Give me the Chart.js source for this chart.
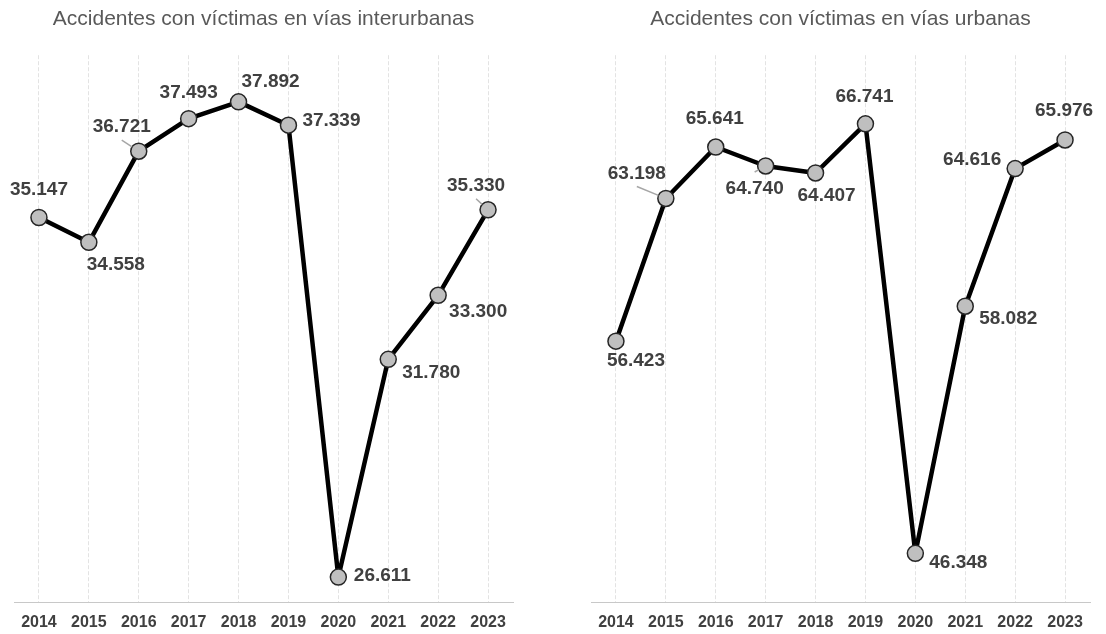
<!DOCTYPE html>
<html>
<head>
<meta charset="utf-8">
<script src="https://cdn.jsdelivr.net/npm/chart.js@4"></script>
<style>
  body { margin: 0; background: #fff; overflow: hidden; }
  .panel { position: absolute; top: 0; width: 553px; height: 646px; }
</style>
</head>
<body>
<div class="panel" style="left:0"><canvas id="inter"></canvas></div>
<div class="panel" style="left:553px"><canvas id="urban"></canvas></div>
<script>
const years = ['2014', '2015', '2016', '2017', '2018', '2019', '2020', '2021', '2022', '2023']
const interurbanas = [35147, 34558, 36721, 37493, 37892, 37339, 26611, 31780, 33300, 35330]
const urbanas = [56423, 63198, 65641, 64740, 64407, 66741, 46348, 58082, 64616, 65976]

// label placement (dx, dy from the point, leader line or not)
const interLabels = [[0, -28], [27, 22], [-17, -24, true], [0, -26], [32, -20], [43, -4], [44, -1], [43, 13], [40, 16], [-12, -24, true]]
const urbanLabels = [[20, 20], [-29, -25, true], [-1, -28], [-11, 23, true], [11, 23], [-1, -27], [43, 9], [43, 13], [-43, -9], [-1, -29]]

function fmt(v) {
    return String(v).replace(/\B(?=(\d{3})+(?!\d))/g, '.')
}

const labelPlugin = {
    id: 'valueLabels',
    afterDatasetsDraw(chart, args, opts) {
        const ctx = chart.ctx
        const meta = chart.getDatasetMeta(0)
        const data = chart.data.datasets[0].data
        ctx.save()
        ctx.font = 'bold 19px "Liberation Sans", Arial, sans-serif'
        ctx.fillStyle = '#404040'
        ctx.textAlign = 'center'
        ctx.textBaseline = 'middle'
        meta.data.forEach((pt, i) => {
            const [dx, dy, leader] = opts.offsets[i]
            const tx = pt.x + dx, ty = pt.y + dy
            if (leader) {
                const sy = ty + (dy < 0 ? 13 : -17)
                const ang = Math.atan2(pt.y - sy, pt.x - tx)
                ctx.strokeStyle = '#a6a6a6'
                ctx.lineWidth = 1.5
                ctx.beginPath()
                ctx.moveTo(tx, sy)
                ctx.lineTo(pt.x - Math.cos(ang) * 8, pt.y - Math.sin(ang) * 8)
                ctx.stroke()
            }
            ctx.fillText(fmt(data[i]), tx, ty)
        })
        ctx.restore()
    }
}

function makeChart(id, title, values, yMin, yMax, padL, padR, offsets) {
    return new Chart(document.getElementById(id), {
        type: 'line',
        data: {
            labels: years,
            datasets: [{
                data: values,
                borderColor: '#000000',
                borderWidth: 4.5,
                borderJoinStyle: 'round',
                pointRadius: 8,
                pointBackgroundColor: '#bfbfbf',
                pointBorderColor: '#262626',
                pointBorderWidth: 1.5,
                tension: 0
            }]
        },
        options: {
            responsive: true,
            maintainAspectRatio: false,
            animation: false,
            layout: {
                padding: { left: padL, right: padR, top: 0, bottom: 4 }
            },
            plugins: {
                legend: { display: false },
                tooltip: { enabled: false },
                title: {
                    display: true,
                    text: title,
                    color: '#595959',
                    font: { family: '"Liberation Sans", Arial, sans-serif', size: 21, weight: 'normal' },
                    padding: { top: 7, bottom: 23 }
                },
                valueLabels: { offsets: offsets }
            },
            scales: {
                x: {
                    offset: true,
                    grid: {
                        offset: false,
                        drawTicks: false,
                        color: '#e3e3e3',
                        lineWidth: 1
                    },
                    border: {
                        display: true,
                        color: '#c8c8c8',
                        width: 1,
                        dash: [4, 2]
                    },
                    ticks: {
                        color: '#404040',
                        padding: 10,
                        font: { family: '"Liberation Sans", Arial, sans-serif', size: 16, weight: 'bold' }
                    }
                },
                y: {
                    display: false,
                    min: yMin,
                    max: yMax
                }
            }
        },
        plugins: [labelPlugin]
    })
}

makeChart('inter', 'Accidentes con víctimas en vías interurbanas', interurbanas, 26000, 39000, 14, 40, interLabels)
makeChart('urban', 'Accidentes con víctimas en vías urbanas', urbanas, 44000, 70000, 38, 16, urbanLabels)
</script>
</body>
</html>
